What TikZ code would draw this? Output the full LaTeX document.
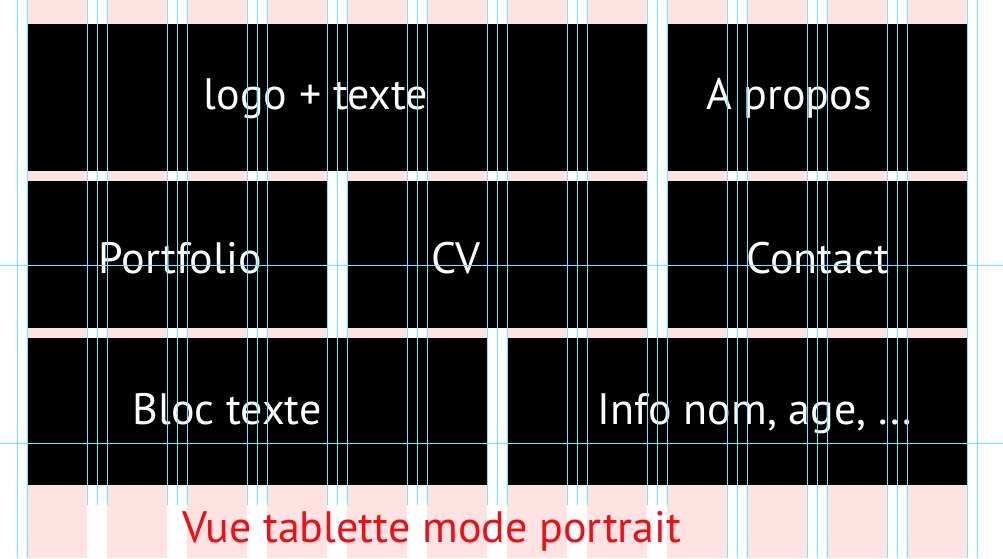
\documentclass[tikz,border=0pt]{standalone}
\usepackage{fontspec}
\setmainfont{PT Sans}

\definecolor{gridpink}{RGB}{255,226,226}
\definecolor{guidecyan}{RGB}{100,238,245}
\definecolor{labelred}{RGB}{240,14,20}

\tikzset{
    block/.style={fill=black, inner sep=0pt, anchor=north west, minimum height=147pt},
    blocktext/.style={text=white, anchor=base, inner sep=0pt, font=\fontsize{44}{53}\selectfont},
    guide/.style={draw=guidecyan, line width=1pt},
}

\begin{document}
\begin{tikzpicture}[x=1pt, y=-1pt]
    \useasboundingbox[fill=white] (0,0) rectangle (1003,558);

    % colonnes de la grille
    \fill[gridpink] (27,0) rectangle (87,558); \fill[gridpink] (107,0) rectangle (167,558);
    \fill[gridpink] (187,0) rectangle (247,558); \fill[gridpink] (267,0) rectangle (327,558);
    \fill[gridpink] (347,0) rectangle (407,558); \fill[gridpink] (427,0) rectangle (487,558);
    \fill[gridpink] (507,0) rectangle (567,558); \fill[gridpink] (587,0) rectangle (647,558);
    \fill[gridpink] (667,0) rectangle (727,558); \fill[gridpink] (747,0) rectangle (807,558);
    \fill[gridpink] (827,0) rectangle (887,558); \fill[gridpink] (907,0) rectangle (967,558);

    % blocs
    \node[block, minimum width=620pt] (logo) at (27,24) {};
    \node[block, minimum width=300pt] (apropos) at (667,24) {};

    \node[block, minimum width=300pt] (portfolio) at (27,181) {};
    \node[block, minimum width=300pt] (cv) at (347,181) {};
    \node[block, minimum width=300pt] (contact) at (667,181) {};

    \node[block, minimum width=460pt] (bloc) at (27,338) {};
    \node[block, minimum width=460pt] (info) at (507,338) {};

    % textes
    \node[blocktext] (logolabel) at (316,109) {logo + texte};
    \node[blocktext] (aproposlabel) at (789,109) {A propos};
    \node[blocktext] (portfoliolabel) at (180,273) {Portfolio};
    \node[blocktext] (cvlabel) at (456,273) {CV};
    \node[blocktext] (contactlabel) at (818,273) {Contact};
    \node[blocktext] (bloclabel) at (227,424) {Bloc texte};
    \node[blocktext] (infolabel) at (755,424) {Info nom, age, ...};

    \node[blocktext, text=labelred] (titre) at (432,542) {Vue tablette mode portrait};

    % reperes
    \foreach \gx in {17,27,727,737,747,807,817,827,887,897,907,967,977}
        \draw[guide] (\gx+0.5,0) -- (\gx+0.5,558);
    \foreach \gx in {87,97,107,167,177,187,247,257,267,327,337,347,407,417,427,487,497,507,567,577,587,647,657,667}
        \draw[guide] (\gx+0.5,0) -- (\gx+0.5,505);
    \draw[guide] (0,265.5) -- (1003,265.5);
    \draw[guide] (0,443.5) -- (1003,443.5);
\end{tikzpicture}
\end{document}
